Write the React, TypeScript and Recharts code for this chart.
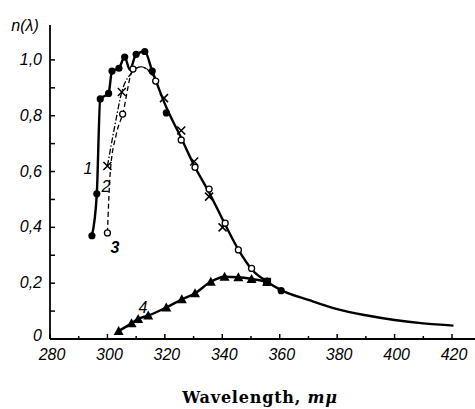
import React from 'react';
import { ComposedChart, Line, Scatter, XAxis, YAxis } from 'recharts';

// wavelength ticks (mμ)
const xMajorTicks = [280, 300, 320, 340, 360, 380, 400, 420];
const xMinorTicks = [290, 310, 330, 350, 370, 390, 410];
const xTickLabels = ['280', '300', '320', '340', '360', '380', '400', '420'];

// n(λ) ticks
const yMajorTicks = [0, 0.2, 0.4, 0.6, 0.8, 1.0];
const yMinorTicks = [0.1, 0.3, 0.5, 0.7, 0.9];
const yTickLabels = ['0', '0,2', '0,4', '0,6', '0,8', '1,0'];

// curve 1 — solid line, filled circles
const curve1Line = [
  { x: 294.6, y: 0.37 }, { x: 296.3, y: 0.52 }, { x: 297.5, y: 0.86 }, { x: 300.4, y: 0.88 },
  { x: 301.6, y: 0.96 }, { x: 304, y: 0.97 }, { x: 306, y: 1.01 }, { x: 307.8, y: 0.965 },
  { x: 310, y: 1.02 }, { x: 313, y: 1.03 }, { x: 315.6, y: 0.96 }, { x: 320.5, y: 0.83 },
  { x: 325.7, y: 0.72 }, { x: 330.3, y: 0.62 }, { x: 335.4, y: 0.525 }, { x: 341, y: 0.41 },
  { x: 345.6, y: 0.32 }, { x: 350.2, y: 0.25 }, { x: 355.6, y: 0.205 }, { x: 360.5, y: 0.175 },
  { x: 370, y: 0.14 }, { x: 380, y: 0.107 }, { x: 390, y: 0.085 }, { x: 400, y: 0.068 },
  { x: 410, y: 0.056 }, { x: 420.5, y: 0.048 },
];
const curve1Dots = [
  { x: 294.6, y: 0.37 }, { x: 296.3, y: 0.52 }, { x: 297.5, y: 0.86 }, { x: 300.4, y: 0.88 },
  { x: 301.6, y: 0.96 }, { x: 304, y: 0.97 }, { x: 306, y: 1.01 }, { x: 310, y: 1.02 },
  { x: 313, y: 1.03 }, { x: 315.6, y: 0.96 }, { x: 320.5, y: 0.81 }, { x: 360.5, y: 0.173 },
];
const curve1Square = [{ x: 355.6, y: 0.205 }];

// curve 2 — dash-dot, crosses
const curve2Line = [
  { x: 300, y: 0.62 }, { x: 302.5, y: 0.76 }, { x: 305, y: 0.885 }, { x: 308.6, y: 0.955 },
  { x: 311.5, y: 0.975 }, { x: 314, y: 0.965 }, { x: 316.8, y: 0.93 },
];
const curve2Dots = [
  { x: 300, y: 0.62 }, { x: 305, y: 0.885 }, { x: 319.7, y: 0.863 }, { x: 325.7, y: 0.747 },
  { x: 330.2, y: 0.636 }, { x: 335.4, y: 0.51 }, { x: 340.1, y: 0.4 },
];

// curve 3 — dashed, open circles
const curve3Line = [
  { x: 300, y: 0.38 }, { x: 301, y: 0.6 }, { x: 303, y: 0.73 }, { x: 305.3, y: 0.806 },
  { x: 308.9, y: 0.965 }, { x: 312, y: 0.975 }, { x: 316.8, y: 0.925 },
];
const curve3Dots = [
  { x: 300, y: 0.38 }, { x: 305.3, y: 0.806 }, { x: 308.9, y: 0.967 }, { x: 316.8, y: 0.924 },
  { x: 325.7, y: 0.713 }, { x: 330.5, y: 0.615 }, { x: 335.4, y: 0.537 }, { x: 341, y: 0.415 },
  { x: 345.6, y: 0.319 }, { x: 350.2, y: 0.253 },
];

// curve 4 — solid, triangles
const curve4 = [
  { x: 303.9, y: 0.029 }, { x: 308.4, y: 0.056 }, { x: 310.7, y: 0.072 }, { x: 314.2, y: 0.084 },
  { x: 320.5, y: 0.113 }, { x: 325.9, y: 0.142 }, { x: 330.5, y: 0.164 }, { x: 336, y: 0.205 },
  { x: 340.8, y: 0.223 }, { x: 345.6, y: 0.221 }, { x: 350.2, y: 0.215 }, { x: 355.6, y: 0.205 },
];

const tickFont = "'Liberation Sans Narrow', 'Liberation Sans', sans-serif";

const XTick = (props: any) => {
  const { x, y, payload } = props;
  const i = xMajorTicks.indexOf(payload.value);
  return (
    <g>
      <line x1={x} x2={x} y1={y} y2={y - (i >= 0 ? 5 : 3)} stroke="#000" strokeWidth={1.5} />
      {i >= 0 && (
        <text x={x + 2} y={y + 21} textAnchor="middle" fontFamily={tickFont} fontStyle="italic" fontSize={16} fill="#000">
          {xTickLabels[i]}
        </text>
      )}
    </g>
  );
};

const YTick = (props: any) => {
  const { x, y, payload } = props;
  const i = yMajorTicks.indexOf(payload.value);
  return (
    <g>
      <line x1={x} x2={x + 5} y1={y} y2={y} stroke="#000" strokeWidth={1.5} />
      {i >= 0 && (
        <text x={x - 8} y={y + (i === 0 ? 2 : 5)} textAnchor="end" fontFamily={tickFont} fontStyle="italic" fontSize={16} fill="#000">
          {yTickLabels[i]}
        </text>
      )}
    </g>
  );
};

const filledCircle = (p: any) => <circle cx={p.cx} cy={p.cy} r={3.6} fill="#000" />;
const openCircle = (p: any) => <circle cx={p.cx} cy={p.cy} r={3} fill="#fff" stroke="#000" strokeWidth={1.3} />;
const cross = (p: any) => (
  <path
    d={`M${p.cx - 4},${p.cy - 4}L${p.cx + 4},${p.cy + 4}M${p.cx + 4},${p.cy - 4}L${p.cx - 4},${p.cy + 4}`}
    stroke="#000"
    strokeWidth={1.5}
  />
);
const triangle = (p: any) => (
  <path d={`M${p.cx},${p.cy - 5}L${p.cx + 5},${p.cy + 4}L${p.cx - 5},${p.cy + 4}Z`} fill="#000" />
);
const square = (p: any) => <rect x={p.cx - 4} y={p.cy - 4} width={8} height={8} fill="#000" />;

export default function App() {
  const allXTicks = [...xMajorTicks, ...xMinorTicks].sort((a, b) => a - b);
  const allYTicks = [...yMajorTicks, ...yMinorTicks].sort((a, b) => a - b);
  return (
    <div style={{ position: 'absolute', left: 0, top: 0, background: '#fff' }}>
      <ComposedChart width={475} height={409} margin={{ top: 25, right: 0, bottom: 0, left: 0 }}>
        <XAxis
          type="number"
          dataKey="x"
          domain={[280, 428]}
          allowDataOverflow
          ticks={allXTicks}
          tick={<XTick />}
          tickLine={false}
          tickSize={0}
          tickMargin={0}
          height={70}
          axisLine={{ stroke: '#000', strokeWidth: 1.8 }}
          interval={0}
        />
        <YAxis
          type="number"
          dataKey="y"
          domain={[0, 1.125]}
          allowDataOverflow
          ticks={allYTicks}
          tick={<YTick />}
          tickLine={false}
          tickSize={0}
          tickMargin={0}
          width={50}
          axisLine={{ stroke: '#000', strokeWidth: 1.8 }}
          interval={0}
        />
        <Line data={curve1Line} dataKey="y" type="monotone" stroke="#000" strokeWidth={2.4} dot={false} isAnimationActive={false} />
        <Line data={curve2Line} dataKey="y" type="monotone" stroke="#000" strokeWidth={1.3} strokeDasharray="6 2 1.5 2" dot={false} isAnimationActive={false} />
        <Line data={curve3Line} dataKey="y" type="monotone" stroke="#000" strokeWidth={1.3} strokeDasharray="5 3" dot={false} isAnimationActive={false} />
        <Line data={curve4} dataKey="y" type="monotone" stroke="#000" strokeWidth={2.4} dot={false} isAnimationActive={false} />
        <Scatter data={curve1Dots} dataKey="y" shape={filledCircle} isAnimationActive={false} />
        <Scatter data={curve1Square} dataKey="y" shape={square} isAnimationActive={false} />
        <Scatter data={curve2Dots} dataKey="y" shape={cross} isAnimationActive={false} />
        <Scatter data={curve3Dots} dataKey="y" shape={openCircle} isAnimationActive={false} />
        <Scatter data={curve4} dataKey="y" shape={triangle} isAnimationActive={false} />
        <text x={25} y={31} textAnchor="middle" fontFamily={tickFont} fontStyle="italic" fontSize={16} fill="#000">
          n(λ)
        </text>
        <text x={88} y={174} textAnchor="middle" fontFamily={tickFont} fontStyle="italic" fontSize={16} fill="#000">1</text>
        <text x={106} y={192} textAnchor="middle" fontFamily={tickFont} fontStyle="italic" fontSize={16} fill="#000">2</text>
        <text x={115} y={253} textAnchor="middle" fontFamily={tickFont} fontStyle="italic" fontWeight="bold" fontSize={16} fill="#000">3</text>
        <text x={143} y={313} textAnchor="middle" fontFamily={tickFont} fontStyle="italic" fontSize={16} fill="#000">4</text>
        <text x={260} y={403} textAnchor="middle" fontFamily="'DejaVu Serif', serif" fontWeight="bold" fontSize={16} letterSpacing={0.8} fill="#000">
          Wavelength, <tspan fontStyle="italic">mμ</tspan>
        </text>
      </ComposedChart>
    </div>
  );
}
